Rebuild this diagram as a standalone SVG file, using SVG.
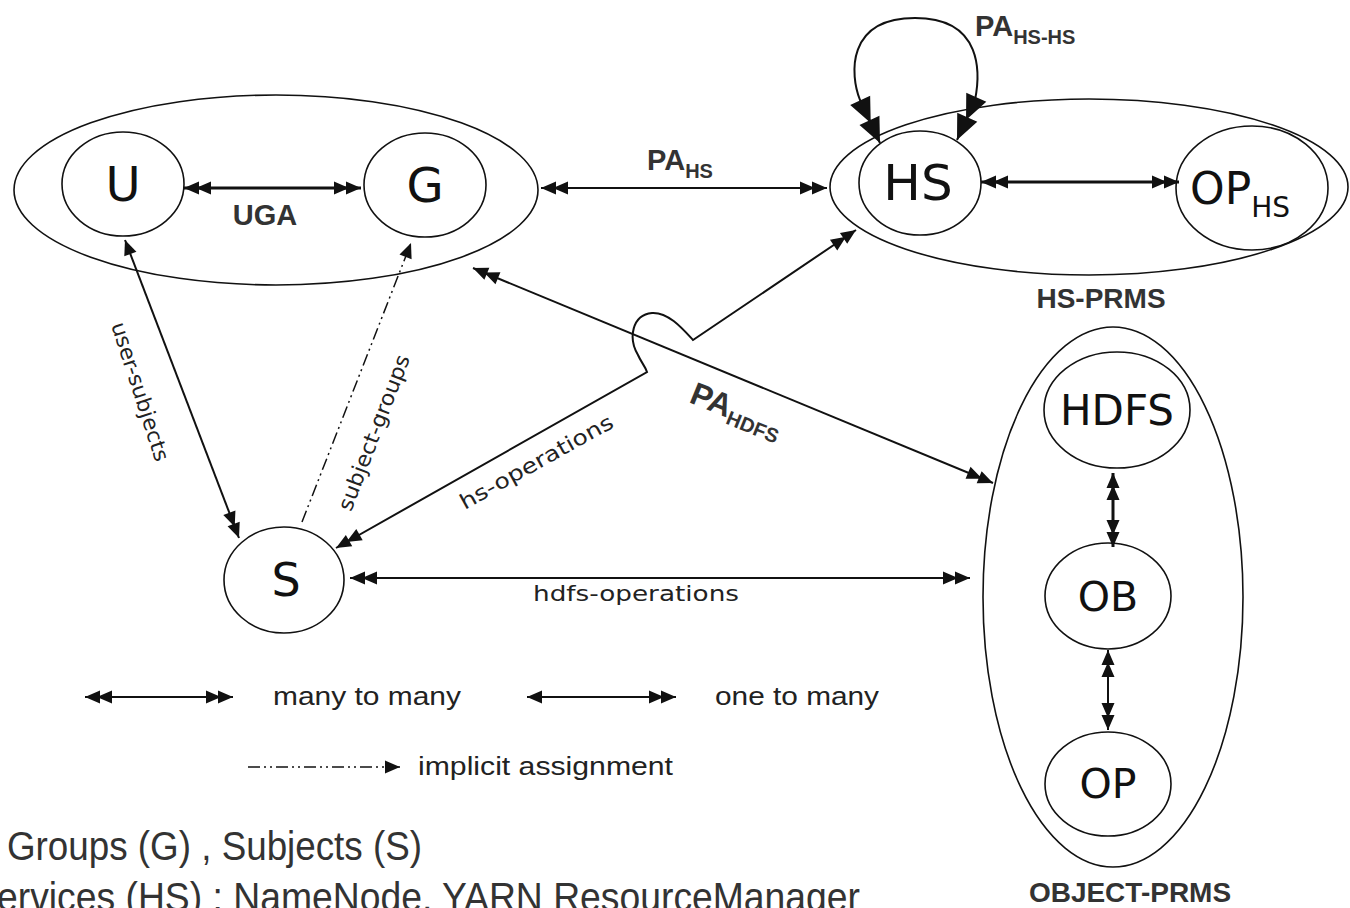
<svg xmlns="http://www.w3.org/2000/svg" width="1350" height="908" viewBox="0 0 1350 908">
<style>
  .shape{fill:none;stroke:#111;stroke-width:1.6}
  .node{font-family:"DejaVu Sans","Liberation Sans",sans-serif;fill:#111}
  .bold{font-family:"Liberation Sans","DejaVu Sans",sans-serif;font-weight:bold;fill:#333}
  .elab{font-family:"DejaVu Sans","Liberation Sans",sans-serif;font-size:21px;fill:#222}
  .leg{font-family:"Liberation Sans","DejaVu Sans",sans-serif;font-size:26px;fill:#222}
  .big{font-family:"Liberation Sans","DejaVu Sans",sans-serif;font-size:40px;fill:#333}
  .ln{fill:none;stroke:#111;stroke-width:2}
  .thick{stroke-width:3}
  .dd{stroke-dasharray:12 4 2 4 2 4;stroke-width:1.5}
  marker path{fill:#111;stroke:none}
</style>
<defs>
  <marker id="dh" viewBox="-30 -8 32 16" refX="0" refY="0" markerWidth="32" markerHeight="16" markerUnits="userSpaceOnUse" orient="auto-start-reverse"><path d="M0,0 L-15,-6.5 L-15,6.5 Z M-12,0 L-27,-6.5 L-27,6.5 Z"/></marker>
  <marker id="sh" viewBox="-17 -8 18 16" refX="0" refY="0" markerWidth="18" markerHeight="16" markerUnits="userSpaceOnUse" orient="auto-start-reverse"><path d="M0,0 L-15,-6.5 L-15,6.5 Z"/></marker>
  <marker id="dhb" viewBox="-52 -14 54 28" refX="0" refY="0" markerWidth="54" markerHeight="28" markerUnits="userSpaceOnUse" orient="auto-start-reverse"><path d="M0,0 L-25,-11 L-25,11 Z M-22,0 L-47,-11 L-47,11 Z"/></marker>
</defs>
<rect width="1350" height="908" fill="#fff"/>

<g id="user-group">
  <ellipse class="shape" cx="276" cy="190" rx="262" ry="95"/>
</g>
<g id="node-U">
  <ellipse class="shape" cx="123" cy="184" rx="61" ry="52"/>
  <text class="node" x="123" y="201" font-size="48" text-anchor="middle">U</text>
</g>
<g id="node-G">
  <ellipse class="shape" cx="425" cy="185" rx="61" ry="52"/>
  <text class="node" x="425" y="202" font-size="48" text-anchor="middle">G</text>
</g>
<g id="hs-prms">
  <ellipse class="shape" cx="1089" cy="187" rx="259" ry="88"/>
  <text class="bold" x="1101" y="308" font-size="28" text-anchor="middle">HS-PRMS</text>
</g>
<g id="node-HS">
  <ellipse class="shape" cx="920" cy="183" rx="61" ry="52"/>
  <text class="node" x="918" y="200" font-size="50" text-anchor="middle">HS</text>
</g>
<g id="node-OPHS">
  <ellipse class="shape" cx="1252" cy="188" rx="76" ry="62"/>
  <text class="node" x="1190" y="204" font-size="44">OP<tspan y="217" font-size="28">HS</tspan></text>
</g>
<g id="node-S">
  <ellipse class="shape" cx="284" cy="580" rx="60" ry="53"/>
  <text class="node" x="286" y="596" font-size="46" text-anchor="middle">S</text>
</g>
<g id="object-prms">
  <ellipse class="shape" cx="1113" cy="597" rx="130" ry="270"/>
  <text class="bold" x="1130" y="902" font-size="28" text-anchor="middle">OBJECT-PRMS</text>
</g>
<g id="node-HDFS">
  <ellipse class="shape" cx="1117" cy="410" rx="73" ry="58"/>
  <text class="node" x="1117" y="425" font-size="42" text-anchor="middle">HDFS</text>
</g>
<g id="node-OB">
  <ellipse class="shape" cx="1108" cy="596" rx="63" ry="53"/>
  <text class="node" x="1108" y="611" font-size="41" text-anchor="middle">OB</text>
</g>
<g id="node-OP">
  <ellipse class="shape" cx="1108" cy="784" rx="63" ry="52"/>
  <text class="node" x="1108" y="798" font-size="41" text-anchor="middle">OP</text>
</g>

<g id="connectors">
  <path class="ln thick" d="M184,188 L361,188" marker-start="url(#dh)" marker-end="url(#dh)"/>
  <path class="ln" d="M541,188 L827,188" marker-start="url(#dh)" marker-end="url(#dh)"/>
  <path class="ln thick" d="M981,182 L1179,182" marker-start="url(#dh)" marker-end="url(#dh)"/>
  <path class="ln" stroke-width="4.5" d="M880,143 L860,100 C850,75 846,18 915,18 C984,18 980,75 975,100 L957,140" marker-start="url(#dhb)" marker-end="url(#dhb)"/>
  <path class="ln" d="M125,240 L239,538" marker-start="url(#sh)" marker-end="url(#dh)"/>
  <path class="ln dd" d="M302,522 L411,243" marker-end="url(#sh)"/>
  <path class="ln" d="M336,548 L647,372 C645,366 641,362 638,355 C628,338 632,315 652,313 C668,312 682,328 693,340 L856,230" marker-start="url(#dh)" marker-end="url(#dh)"/>
  <path class="ln" d="M473,268 L993,483" marker-start="url(#dh)" marker-end="url(#dh)"/>
  <path class="ln" d="M350,578 L970,578" marker-start="url(#dh)" marker-end="url(#dh)"/>
  <path class="ln thick" d="M1113,473 L1113,547" marker-start="url(#dh)" marker-end="url(#dh)"/>
  <path class="ln" d="M1108,650 L1108,730" marker-start="url(#dh)" marker-end="url(#dh)"/>
</g>

<g id="edge-labels">
  <text class="bold" x="265" y="225" font-size="29" text-anchor="middle">UGA</text>
  <text class="bold" x="647" y="170" font-size="29">PA<tspan y="178" font-size="20">HS</tspan></text>
  <text class="bold" x="975" y="36" font-size="29">PA<tspan y="44" font-size="20">HS-HS</tspan></text>
  <text class="bold" transform="translate(688,402) rotate(22)" font-size="32">PA<tspan dy="6" font-size="20">HDFS</tspan></text>
  <text class="elab" transform="translate(139,392) rotate(72)" x="0" y="6" text-anchor="middle" textLength="145" lengthAdjust="spacingAndGlyphs">user-subjects</text>
  <text class="elab" transform="translate(375,433) rotate(-69)" x="0" y="6" text-anchor="middle" textLength="165" lengthAdjust="spacingAndGlyphs">subject-groups</text>
  <text class="elab" transform="translate(537,463) rotate(-29)" x="0" y="6" text-anchor="middle" textLength="172" lengthAdjust="spacingAndGlyphs">hs-operations</text>
  <text class="elab" x="533" y="601" textLength="206" lengthAdjust="spacingAndGlyphs">hdfs-operations</text>
</g>

<g id="legend">
  <path class="ln" d="M85,697 L233,697" marker-start="url(#dh)" marker-end="url(#dh)"/>
  <text class="leg" x="273" y="705" textLength="188" lengthAdjust="spacingAndGlyphs">many to many</text>
  <path class="ln" d="M527,697 L676,697" marker-start="url(#sh)" marker-end="url(#dh)"/>
  <text class="leg" x="715" y="705" textLength="164" lengthAdjust="spacingAndGlyphs">one to many</text>
  <path class="ln dd" d="M248,767 L400,767" marker-end="url(#sh)"/>
  <text class="leg" x="418" y="775" textLength="255" lengthAdjust="spacingAndGlyphs">implicit assignment</text>
</g>

<g id="notes">
  <text class="big" x="7" y="860" textLength="415" lengthAdjust="spacingAndGlyphs">Groups (G) , Subjects (S)</text>
  <text class="big" x="-3" y="911" textLength="863" lengthAdjust="spacingAndGlyphs">ervices (HS) : NameNode, YARN ResourceManager</text>
</g>
</svg>
